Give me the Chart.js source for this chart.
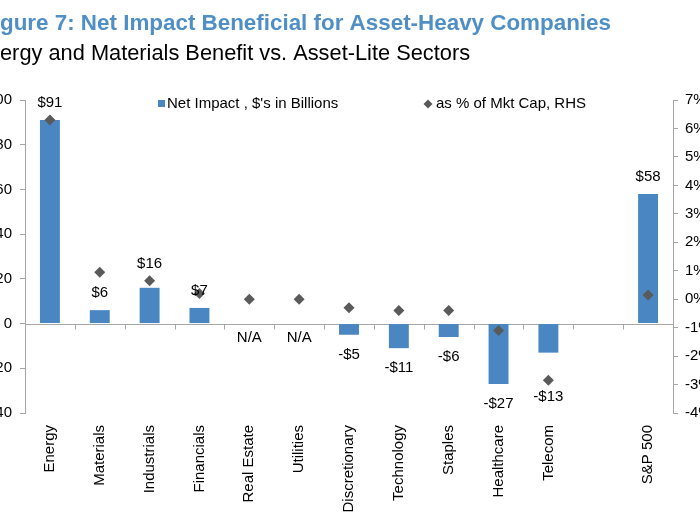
<!DOCTYPE html>
<html>
<head>
<meta charset="utf-8">
<script src="https://cdn.jsdelivr.net/npm/chart.js@4/dist/chart.umd.min.js"></script>
<style>
  html, body { margin: 0; padding: 0; background: #fff; overflow: hidden; width: 700px; height: 525px; }
  #wrap { position: absolute; left: -30px; top: 0; width: 760px; height: 525px; }
</style>
</head>
<body>
<div id="wrap"><canvas id="c" width="760" height="525"></canvas></div>
<script>
// ---- data ----
const titleText = 'Figure 7: Net Impact Beneficial for Asset-Heavy Companies';
const subtitleText = 'Energy and Materials Benefit vs. Asset-Lite Sectors';
const categories = ['Energy', 'Materials', 'Industrials', 'Financials', 'Real Estate', 'Utilities',
  'Discretionary', 'Technology', 'Staples', 'Healthcare', 'Telecom', '', 'S&P 500'];
const netImpact = [91, 6, 16, 7, null, null, -5, -11, -6, -27, -13, null, 58];
const pctMktCap = [6.3, 0.95, 0.65, 0.2, 0, 0, -0.3, -0.4, -0.4, -1.1, -2.85, null, 0.15];
const barLabel = "Net Impact , $'s in Billions";
const pointLabel = 'as % of Mkt Cap, RHS';
const leftTicks = [-40, -20, 0, 20, 40, 60, 80, 100];
const rightTicks = [-4, -3, -2, -1, 0, 1, 2, 3, 4, 5, 6, 7];
const naText = 'N/A';

// ---- styles ----
const FONT = '"Liberation Sans", Arial, Helvetica, sans-serif';
const BAR_COLOR = '#4a87c2';
const PT_COLOR = '#5a5a5a';
const AXIS_COLOR = '#a6a6a6';
const TITLE_COLOR = '#4f8fc6';
const SHIFT = 30; // canvas is shifted 30px left of the page

Chart.defaults.font.family = FONT;
Chart.defaults.font.size = 15;
Chart.defaults.color = '#000';

function fmtMoney(v) { return v < 0 ? '-$' + Math.abs(v) : '$' + v; }

const decorPlugin = {
  id: 'decor',
  beforeDatasetsDraw(chart) {
    const { ctx, chartArea, scales } = chart;
    const x = scales.x, y = scales.y;
    const y0 = Math.round(y.getPixelForValue(0)) + 0.5;
    ctx.save();
    ctx.strokeStyle = AXIS_COLOR;
    ctx.lineWidth = 1;
    ctx.beginPath();
    ctx.moveTo(chartArea.left, y0);
    ctx.lineTo(chartArea.right, y0);
    const half = (x.getPixelForValue(1) - x.getPixelForValue(0)) / 2;
    for (let i = 0; i < categories.length - 1; i++) {
      const tx = Math.round(x.getPixelForValue(i) + half) + 0.5;
      ctx.moveTo(tx, y0);
      ctx.lineTo(tx, y0 + 5);
    }
    ctx.stroke();
    ctx.restore();
  },
  afterDatasetsDraw(chart) {
    const { ctx, scales } = chart;
    const y = scales.y;
    const barMeta = chart.getDatasetMeta(1);
    const ptMeta = chart.getDatasetMeta(0);
    ctx.save();
    ctx.font = '15px ' + FONT;
    ctx.fillStyle = '#000';
    ctx.textAlign = 'center';
    ctx.textBaseline = 'middle';
    netImpact.forEach((v, i) => {
      const cx = scales.x.getPixelForValue(i);
      if (v === null) {
        if (categories[i] !== '') ctx.fillText(naText, cx, y.getPixelForValue(0) + 14);
        return;
      }
      const bar = barMeta.data[i];
      const pt = ptMeta.data[i];
      let ly;
      if (v >= 0) {
        ly = bar.y - 17;
        if (pt && pctMktCap[i] !== null && Math.abs(pt.y - bar.y) < 8) ly = Math.min(ly, pt.y - 17);
      } else {
        ly = bar.y + 20;
        if (pt && pctMktCap[i] !== null && pt.y > bar.y) ly = Math.max(ly, pt.y + 17);
      }
      ctx.fillText(fmtMoney(v), cx, ly);
    });
    ctx.restore();
  },
  afterDraw(chart) {
    const { ctx } = chart;
    ctx.save();
    // title (cut at left edge of the page as in the reference)
    ctx.textBaseline = 'alphabetic';
    ctx.textAlign = 'left';
    ctx.font = 'bold 22.4px ' + FONT;
    ctx.fillStyle = TITLE_COLOR;
    let off = ctx.measureText(titleText.slice(0, 2)).width;
    ctx.fillText(titleText, SHIFT - off, 30);
    ctx.font = '21.8px ' + FONT;
    ctx.fillStyle = '#000';
    off = ctx.measureText(subtitleText.slice(0, 2)).width;
    ctx.fillText(subtitleText, SHIFT - off, 60);
    // legend
    ctx.font = '15px ' + FONT;
    ctx.textBaseline = 'middle';
    const ly = 104;
    ctx.fillStyle = BAR_COLOR;
    ctx.fillRect(SHIFT + 158, ly - 4, 7, 7);
    ctx.fillStyle = '#000';
    ctx.fillText(barLabel, SHIFT + 167, ly);
    ctx.fillStyle = PT_COLOR;
    const dx = SHIFT + 428;
    ctx.beginPath();
    ctx.moveTo(dx, ly - 4.5);
    ctx.lineTo(dx + 4.5, ly);
    ctx.lineTo(dx, ly + 4.5);
    ctx.lineTo(dx - 4.5, ly);
    ctx.closePath();
    ctx.fill();
    ctx.fillStyle = '#000';
    ctx.fillText(pointLabel, SHIFT + 436, ly);
    ctx.restore();
  }
};

new Chart(document.getElementById('c'), {
  type: 'bar',
  data: {
    labels: categories,
    datasets: [
      {
        type: 'line',
        label: pointLabel,
        data: pctMktCap,
        yAxisID: 'y1',
        showLine: false,
        pointStyle: 'rectRot',
        pointRadius: 5.5,
        pointBackgroundColor: PT_COLOR,
        pointBorderColor: PT_COLOR,
        pointBorderWidth: 0,
        order: 0
      },
      {
        type: 'bar',
        label: barLabel,
        data: netImpact,
        yAxisID: 'y',
        backgroundColor: BAR_COLOR,
        borderWidth: 0,
        barPercentage: 0.4,
        categoryPercentage: 1.0,
        order: 1
      }
    ]
  },
  options: {
    responsive: false,
    animation: false,
    events: [],
    layout: { padding: { top: 100, left: 0, right: 0, bottom: 0 } },
    plugins: { legend: { display: false }, title: { display: false }, tooltip: { enabled: false } },
    scales: {
      x: {
        grid: { display: false, drawTicks: false, tickLength: 0 },
        border: { display: false },
        ticks: { autoSkip: false, maxRotation: 90, minRotation: 90, padding: 12, font: { size: 15 }, color: '#000' },
        afterFit: s => { s.height = 112; }
      },
      y: {
        position: 'left',
        min: leftTicks[0],
        max: leftTicks[leftTicks.length - 1],
        afterBuildTicks: s => { s.ticks = leftTicks.map(v => ({ value: v })); },
        ticks: { padding: 8, font: { size: 15 }, color: '#000' },
        grid: { drawOnChartArea: false, drawTicks: true, tickLength: 5, color: AXIS_COLOR },
        border: { display: true, color: AXIS_COLOR },
        afterFit: s => { s.width = 55; }
      },
      y1: {
        position: 'right',
        min: rightTicks[0],
        max: rightTicks[rightTicks.length - 1],
        afterBuildTicks: s => { s.ticks = rightTicks.map(v => ({ value: v })); },
        ticks: { padding: 7, font: { size: 15 }, color: '#000', callback: v => v + '%' },
        grid: { drawOnChartArea: false, drawTicks: true, tickLength: 5, color: AXIS_COLOR },
        border: { display: true, color: AXIS_COLOR },
        afterFit: s => { s.width = 57; }
      }
    }
  },
  plugins: [decorPlugin]
});
</script>
</body>
</html>
